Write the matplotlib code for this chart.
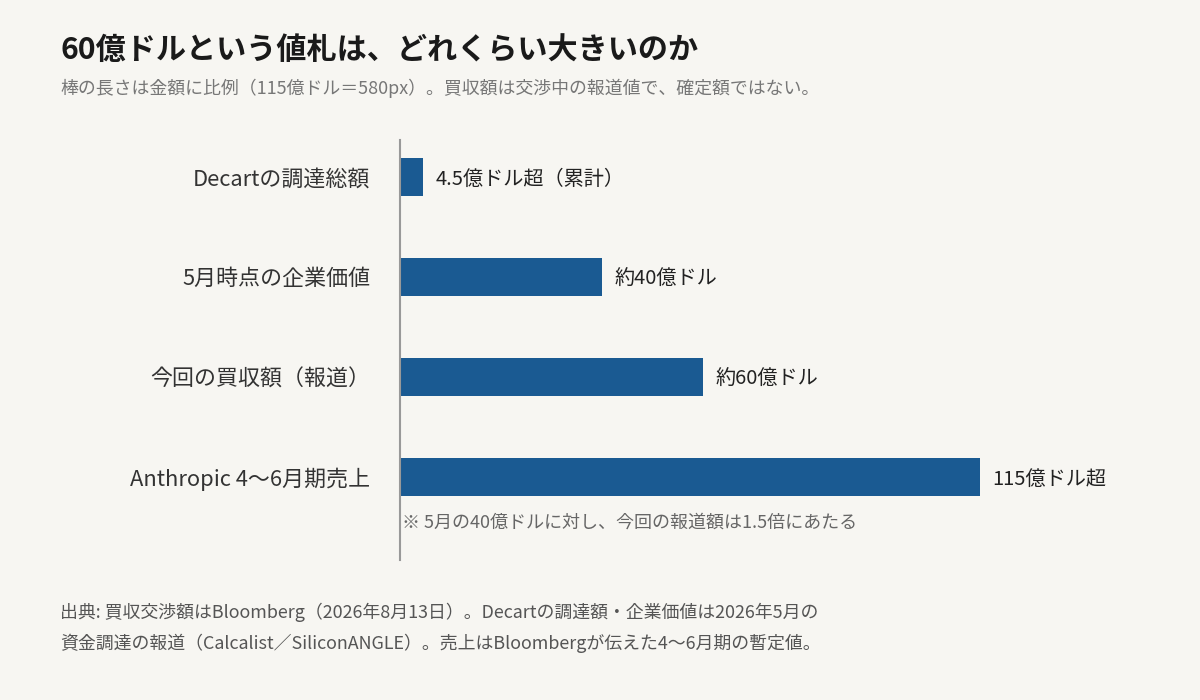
import matplotlib.pyplot as plt

plt.rcParams['font.family'] = ['Noto Sans CJK JP', 'DejaVu Sans']

# Data (億ドル)
categories = ["Decartの調達総額", "5月時点の企業価値", "今回の買収額（報道）", "Anthropic 4〜6月期売上"]
values = [4.5, 40, 60, 115]
value_labels = ["4.5億ドル超（累計）", "約40億ドル", "約60億ドル", "115億ドル超"]

title = "60億ドルという値札は、どれくらい大きいのか"
subtitle = "棒の長さは金額に比例（115億ドル＝580px）。買収額は交渉中の報道値で、確定額ではない。"
note = "※ 5月の40億ドルに対し、今回の報道額は1.5倍にあたる"
footer = ("出典: 買収交渉額はBloomberg（2026年8月13日）。Decartの調達額・企業価値は2026年5月の\n"
          "資金調達の報道（Calcalist／SiliconANGLE）。売上はBloombergが伝えた4〜6月期の暫定値。")

bg = "#f7f6f2"
bar_color = "#1a5a92"

fig = plt.figure(figsize=(12, 7), dpi=100, facecolor=bg)
# axes: x 400..980 px, y 140..560 px
ax = fig.add_axes([400 / 1200, 1 - 560 / 700, 580 / 1200, 420 / 700])
ax.set_facecolor(bg)

ypos = list(range(len(categories)))
ax.barh(ypos, values, height=0.38, color=bar_color)
ax.set_xlim(0, 115)
ax.set_ylim(3.83, -0.37)

for y, v, lab, cat in zip(ypos, values, value_labels, categories):
    ax.annotate(lab, xy=(v, y), xytext=(9, -1.5), textcoords="offset points",
                ha="left", va="center", fontsize=14.5, color="#222222",
                annotation_clip=False)
    ax.annotate(cat, xy=(0, y), xytext=(-21.5, -1.5), textcoords="offset points",
                ha="right", va="center", fontsize=15.8, color="#333333",
                annotation_clip=False)

ax.annotate(note, xy=(0, 3.45), xytext=(1.5, -0.5), textcoords="offset points",
            ha="left", va="center", fontsize=13, color="#666666",
            annotation_clip=False)

for s in ["top", "right", "bottom"]:
    ax.spines[s].set_visible(False)
ax.spines["left"].set_color("#999999")
ax.spines["left"].set_linewidth(1.5)
ax.set_xticks([])
ax.set_yticks([])

fig.text(60 / 1200, 1 - 50 / 700, title, ha="left", va="center",
         fontsize=21.7, fontweight="bold", color="#1a1a1a")
fig.text(60 / 1200, 1 - 88 / 700, subtitle, ha="left", va="center",
         fontsize=12.9, color="#777777")
fig.text(60 / 1200, 1 - 628 / 700, footer, ha="left", va="center",
         fontsize=12.9, color="#555555", linespacing=1.75)

fig.savefig("out.png", dpi=100, facecolor=bg)
